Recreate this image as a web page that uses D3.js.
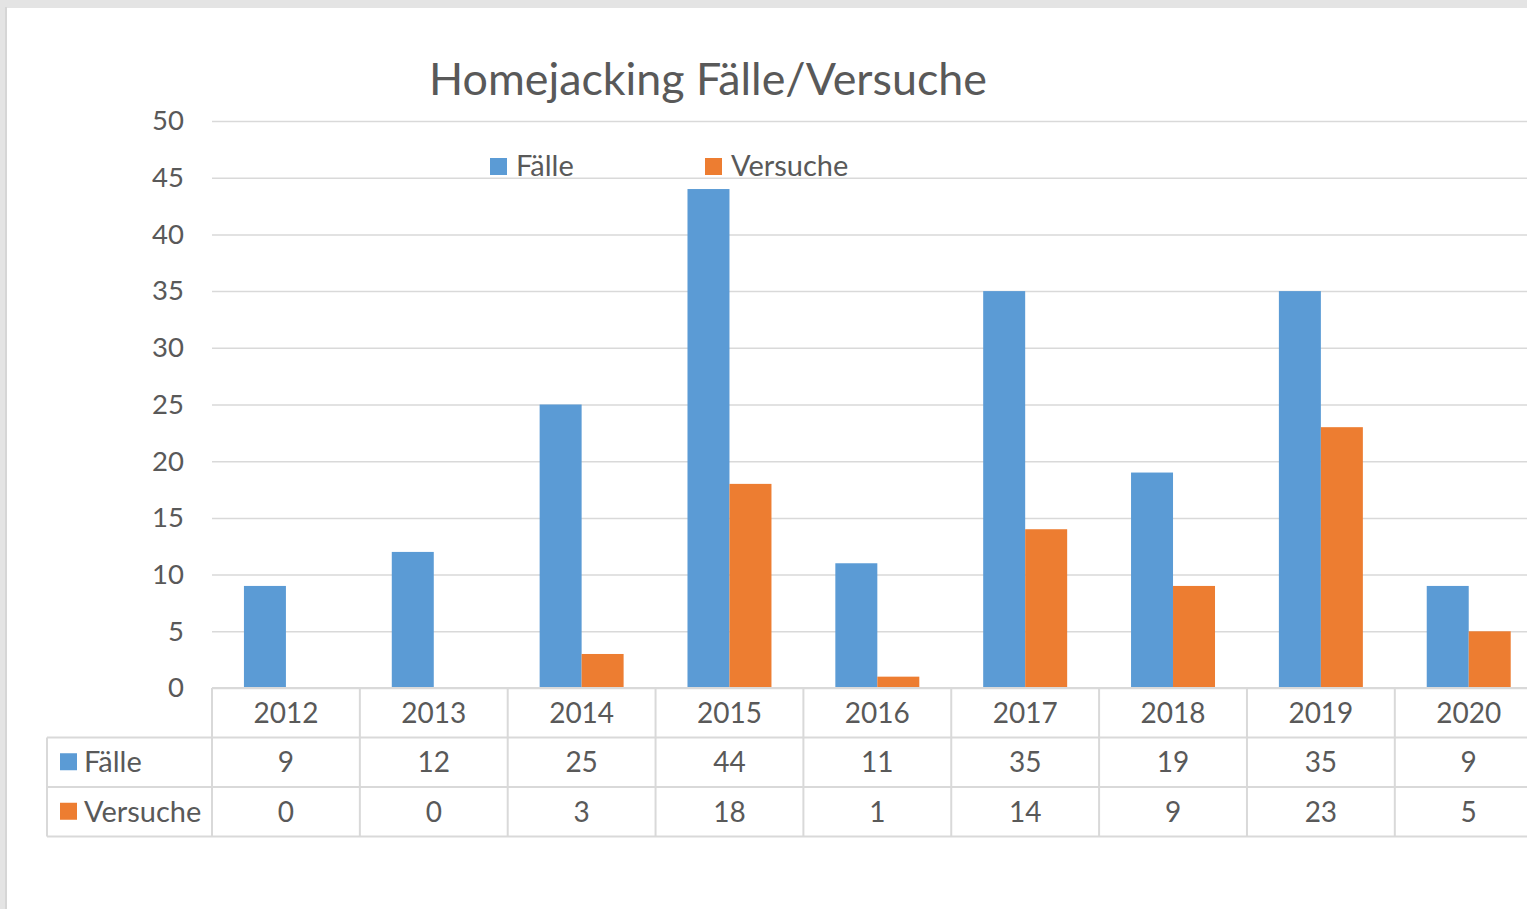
<!DOCTYPE html>
<html>
<head>
<meta charset="utf-8">
<script src="https://cdn.jsdelivr.net/npm/d3@7"></script>
<style>
  html, body { margin: 0; padding: 0; background: #fff; overflow: hidden; }
  svg { display: block; font-family: Lato, sans-serif; }
</style>
</head>
<body>
<div id="chart"></div>
<script>
const years = ['2012', '2013', '2014', '2015', '2016', '2017', '2018', '2019', '2020'];
const seriesNames = ['Fälle', 'Versuche'];
const faelle = [9, 12, 25, 44, 11, 35, 19, 35, 9];
const versuche = [0, 0, 3, 18, 1, 14, 9, 23, 5];
const yTicks = [0, 5, 10, 15, 20, 25, 30, 35, 40, 45, 50];

const width = 1527;
const height = 909;
const textColor = '#595959';
const gridColor = '#d9d9d9';
const colors = { 'Fälle': '#5b9bd5', 'Versuche': '#ed7d31' };

const rows = years.map((year, i) => ({ year, 'Fälle': faelle[i], 'Versuche': versuche[i] }));

const plotLeft = 212;
const step = 147.85;
const plotTop = 121;
const plotBottom = 688;

const x = d3.scaleBand()
  .domain(years)
  .range([plotLeft, plotLeft + step * years.length])
  .paddingInner(0.432)
  .paddingOuter(0.216);

const xSeries = d3.scaleBand()
  .domain(seriesNames)
  .range([0, x.bandwidth()]);

const y = d3.scaleLinear()
  .domain([0, 50])
  .range([plotBottom, plotTop]);

const svg = d3.select('#chart')
  .append('svg')
  .attr('width', width)
  .attr('height', height);

// frame of the screenshot (grey band top and left)
svg.append('rect').attr('x', 0).attr('y', 0).attr('width', width).attr('height', 8).attr('fill', '#e4e4e4');
svg.append('rect').attr('x', 0).attr('y', 0).attr('width', 7).attr('height', height).attr('fill', '#e4e4e4');
svg.append('line').attr('x1', 6).attr('x2', 6).attr('y1', 7).attr('y2', height).attr('stroke', '#d6d6d6').attr('stroke-width', 2);

svg.append('text')
  .attr('x', 708)
  .attr('y', 95)
  .attr('text-anchor', 'middle')
  .attr('fill', textColor)
  .style('font-size', '44.8px')
  .text('Homejacking Fälle/Versuche');

const yAxis = g => g
  .attr('transform', `translate(${plotLeft},0)`)
  .call(d3.axisLeft(y).tickValues(yTicks).tickSize(0).tickPadding(28))
  .call(g => g.select('.domain').remove())
  .call(g => g.selectAll('.tick text')
    .attr('fill', textColor)
    .style('font-size', '27.5px')
    .style('font-family', 'Lato, sans-serif'))
  .call(g => g.selectAll('.tick line').clone()
    .attr('stroke', gridColor)
    .attr('stroke-width', 1.5)
    .attr('x2', width - plotLeft + 20));

svg.append('g').call(yAxis);

// legend on top
const legend = svg.append('g')
  .selectAll('g')
  .data(seriesNames)
  .join('g')
  .attr('transform', (d, i) => `translate(${[490, 705][i]},158)`);

legend.append('rect')
  .attr('width', 17)
  .attr('height', 17)
  .attr('fill', d => colors[d]);

legend.append('text')
  .attr('x', 26)
  .attr('y', 18)
  .attr('fill', textColor)
  .style('font-size', '29px')
  .text(d => d);

// bars
svg.append('g')
  .selectAll('g')
  .data(rows)
  .join('g')
  .attr('transform', d => `translate(${x(d.year)},0)`)
  .selectAll('rect')
  .data(d => seriesNames.map(key => ({ key, value: d[key] })))
  .join('rect')
  .attr('x', d => xSeries(d.key))
  .attr('y', d => y(d.value))
  .attr('width', xSeries.bandwidth())
  .attr('height', d => y(0) - y(d.value))
  .attr('fill', d => colors[d.key]);

// data table
const rowH = 49.5;
const tableLeft = 47;
const colX = i => x.range()[0] + i * x.step();
const table = svg.append('g')
  .attr('stroke', gridColor)
  .attr('stroke-width', 2);

table.append('line')
  .attr('x1', plotLeft).attr('x2', width)
  .attr('y1', plotBottom).attr('y2', plotBottom);

[1, 2, 3].forEach(r => {
  table.append('line')
    .attr('x1', tableLeft).attr('x2', width)
    .attr('y1', plotBottom + r * rowH).attr('y2', plotBottom + r * rowH);
});

table.append('line')
  .attr('x1', tableLeft).attr('x2', tableLeft)
  .attr('y1', plotBottom + rowH).attr('y2', plotBottom + 3 * rowH);

table.selectAll('line.col')
  .data(d3.range(years.length + 1))
  .join('line')
  .attr('class', 'col')
  .attr('x1', i => colX(i)).attr('x2', i => colX(i))
  .attr('y1', plotBottom).attr('y2', plotBottom + 3 * rowH);

const cellText = svg.append('g')
  .attr('fill', textColor)
  .attr('text-anchor', 'middle')
  .style('font-size', '28px');

cellText.selectAll('text.year')
  .data(years)
  .join('text')
  .attr('class', 'year')
  .attr('x', (d, i) => colX(i) + x.step() / 2)
  .attr('y', plotBottom + rowH / 2 + 10)
  .text(d => d);

seriesNames.forEach((name, r) => {
  const values = r === 0 ? faelle : versuche;
  const cy = plotBottom + (r + 1) * rowH + rowH / 2;
  cellText.selectAll(`text.v${r}`)
    .data(values)
    .join('text')
    .attr('class', `v${r}`)
    .attr('x', (d, i) => colX(i) + x.step() / 2)
    .attr('y', cy + 10)
    .text(d => d);

  svg.append('rect')
    .attr('x', 60)
    .attr('y', cy - 9)
    .attr('width', 17)
    .attr('height', 17)
    .attr('fill', colors[name]);

  svg.append('text')
    .attr('x', 84)
    .attr('y', cy + 10)
    .attr('fill', textColor)
    .style('font-size', '29px')
    .text(name);
});
</script>
</body>
</html>
